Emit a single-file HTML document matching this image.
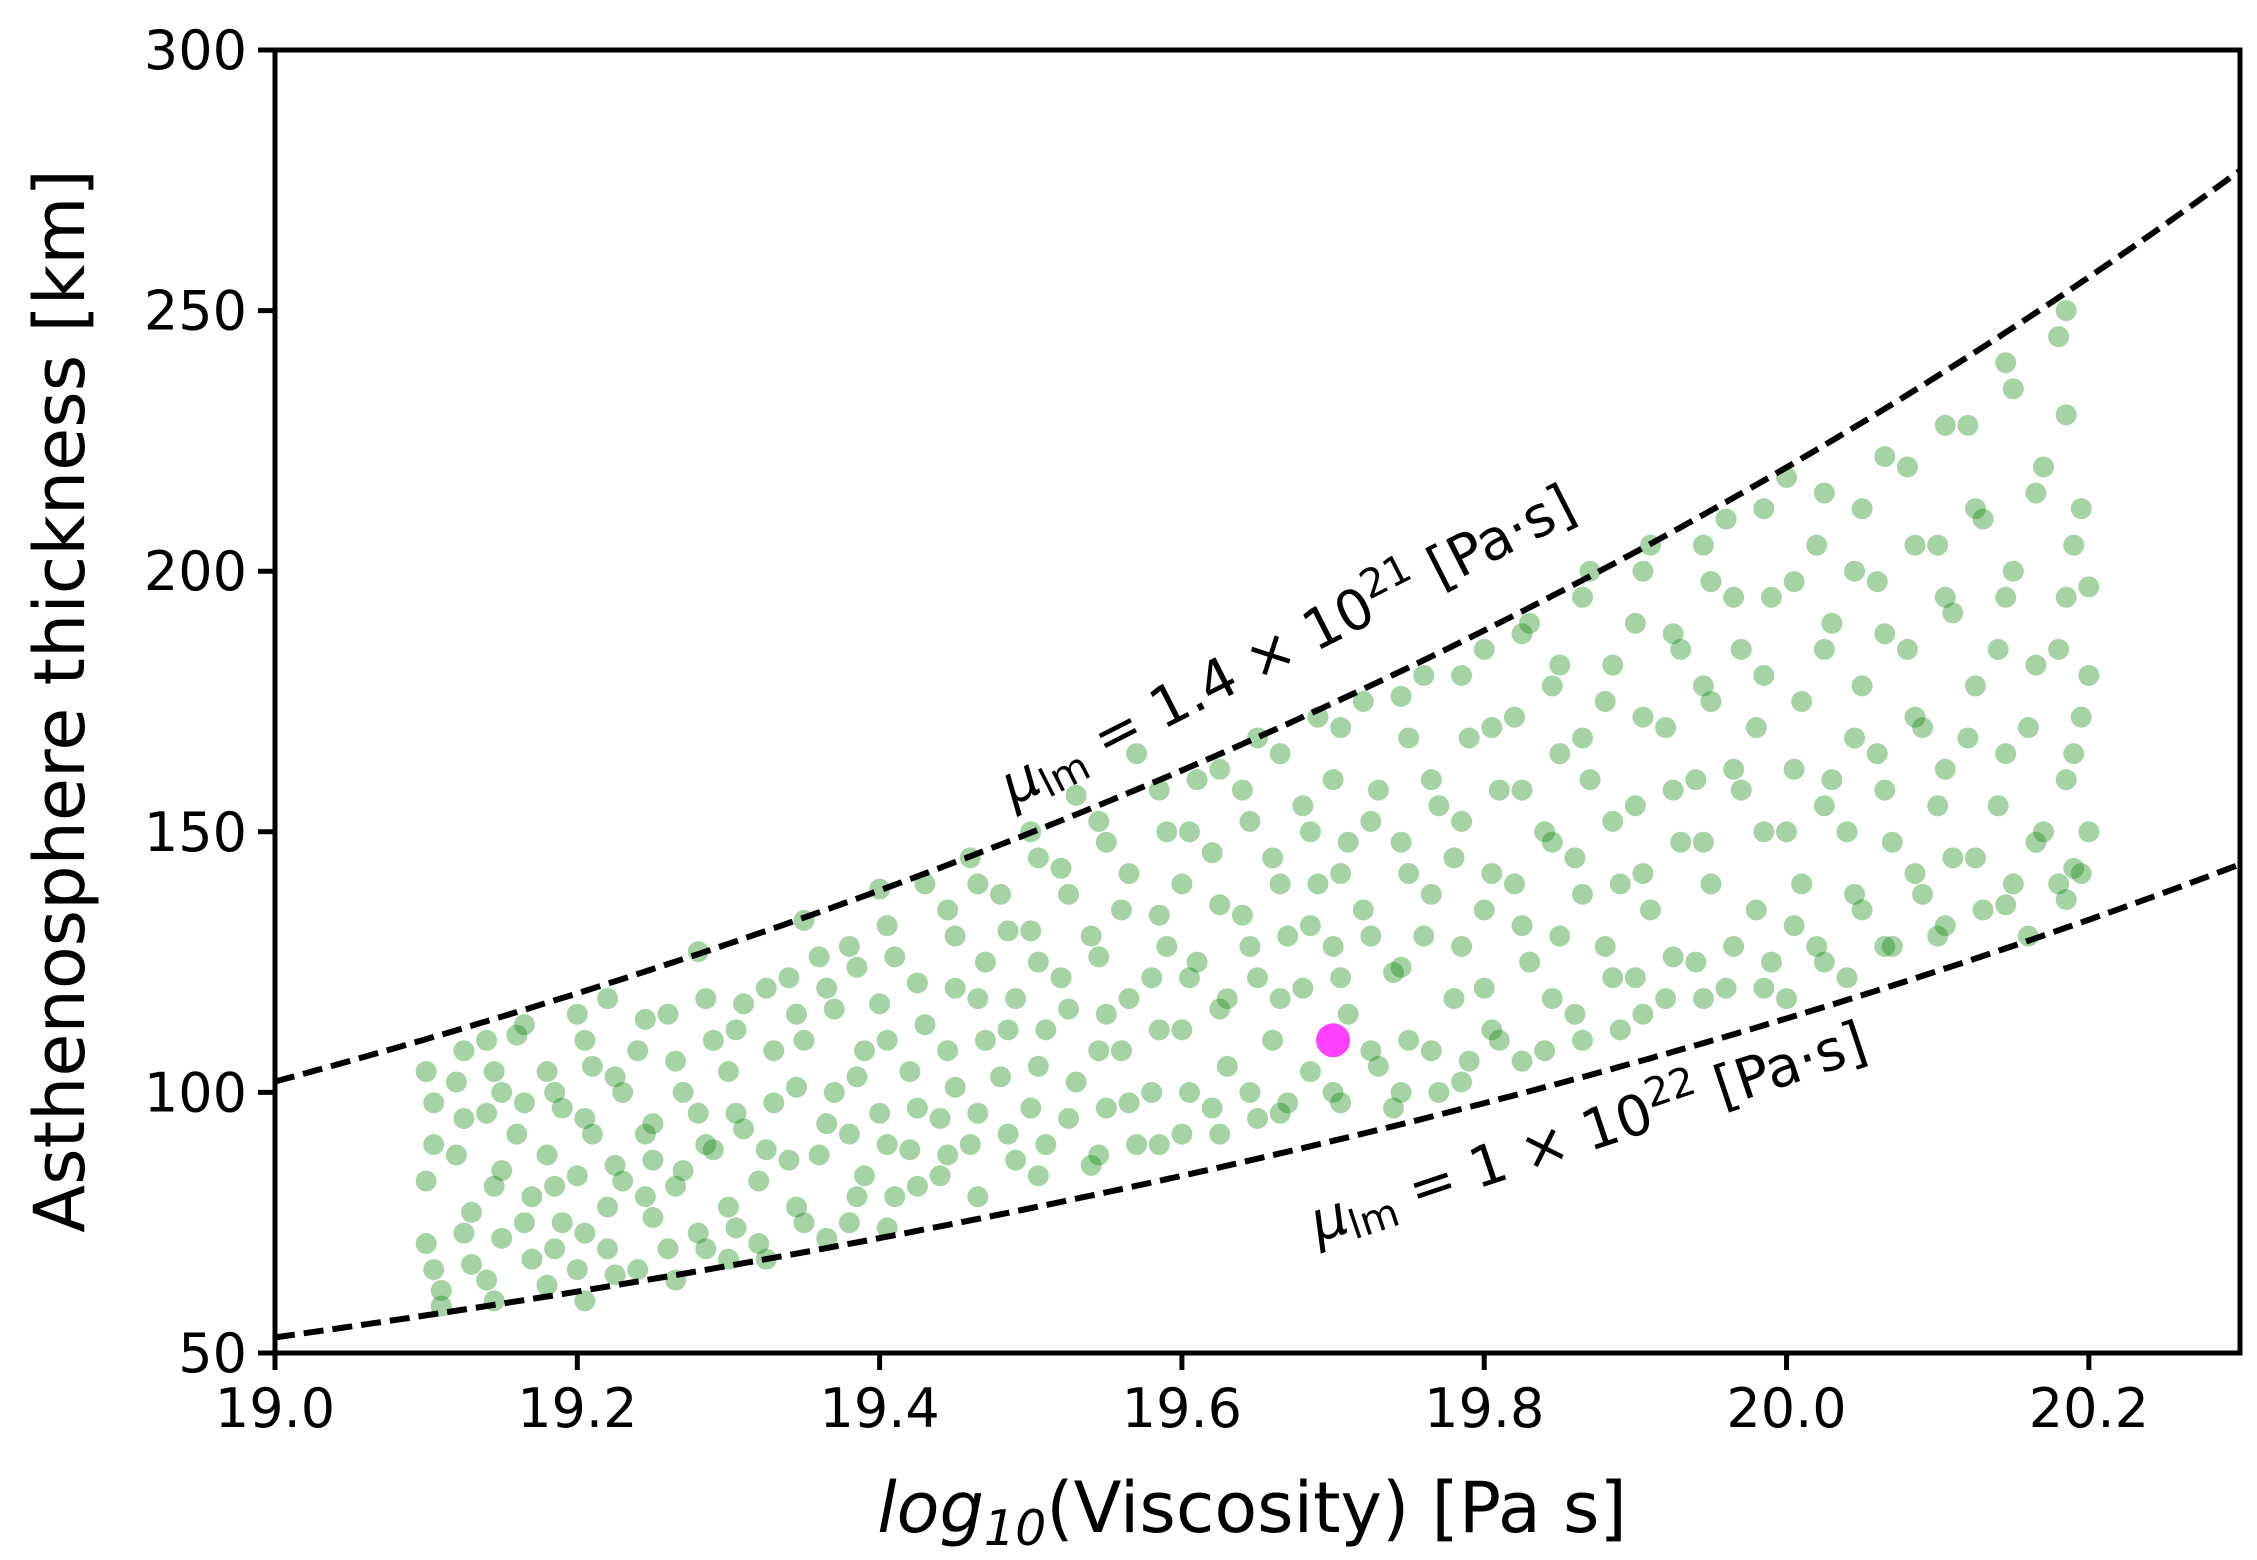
<!DOCTYPE html>
<html><head><meta charset="utf-8"><style>
html,body{margin:0;padding:0;background:#fff;}
svg{display:block;font-family:"DejaVu Sans","Liberation Sans",sans-serif;}
</style></head><body>
<svg id="chart" width="2257" height="1560" viewBox="0 0 2257 1560" xmlns="http://www.w3.org/2000/svg">
<rect width="2257" height="1560" fill="#fff"/>
<g id="points"></g>
<g id="curves"></g>
<g id="axes"></g>
<text transform="translate(1296,662) rotate(-27)" text-anchor="middle" font-size="56" fill="#000"><tspan font-style="italic">μ</tspan><tspan font-size="40" dy="9">lm</tspan><tspan dy="-9"> = 1.4 × 10</tspan><tspan font-size="40" dy="-22">21</tspan><tspan dy="22"> [Pa·s]</tspan></text>
<text transform="translate(1594,1150) rotate(-18.5)" text-anchor="middle" font-size="56" fill="#000"><tspan font-style="italic">μ</tspan><tspan font-size="40" dy="9">lm</tspan><tspan dy="-9"> = 1 × 10</tspan><tspan font-size="40" dy="-22">22</tspan><tspan dy="22"> [Pa·s]</tspan></text>
<text transform="translate(84,701) rotate(-90)" text-anchor="middle" font-size="70" fill="#000">Asthenosphere thickness [km]</text>
<text x="1252" y="1532" text-anchor="middle" font-size="70" fill="#000"><tspan font-style="italic">log</tspan><tspan font-size="49" dy="13" font-style="italic">10</tspan><tspan dy="-13">(Viscosity) [Pa s]</tspan></text>
</svg>
<script>
const xTicks = [19.0, 19.2, 19.4, 19.6, 19.8, 20.0, 20.2];
const xTickLabels = ["19.0","19.2","19.4","19.6","19.8","20.0","20.2"];
const yTicks = [50, 100, 150, 200, 250, 300];
const yTickLabels = ["50","100","150","200","250","300"];
const curveMuLog = [21.146, 22];
const bestX = [19.7];
const bestY = [110];
const ptX = [19.10,19.10,19.10,19.11,19.11,19.12,19.12,19.13,19.13,19.14,19.14,19.14,19.15,19.15,19.15,
19.16,19.16,19.17,19.17,19.18,19.18,19.18,19.19,19.19,19.20,19.20,19.20,
19.21,19.21,19.22,19.22,19.22,19.23,19.23,19.24,19.24,19.25,19.25,19.25,
19.26,19.26,19.27,19.27,19.28,19.28,19.28,19.29,19.29,19.30,19.30,19.30,
19.31,19.31,19.32,19.32,19.33,19.33,19.34,19.34,19.35,19.35,19.35,19.36,
19.36,19.37,19.37,19.38,19.38,19.38,19.39,19.39,19.40,19.40,19.40,
19.41,19.41,19.42,19.42,19.43,19.43,19.44,19.44,19.45,19.45,19.45,
19.46,19.46,19.47,19.47,19.48,19.48,19.49,19.49,19.50,19.50,19.50,
19.51,19.51,19.52,19.52,19.53,19.53,19.54,19.54,19.55,19.55,19.55,
19.56,19.56,19.57,19.57,19.58,19.58,19.59,19.59,19.60,19.60,19.60,
19.61,19.61,19.62,19.62,19.63,19.63,19.64,19.64,19.65,19.65,19.65,
19.66,19.66,19.67,19.67,19.68,19.68,19.69,19.69,19.70,19.70,19.70,
19.71,19.71,19.72,19.72,19.73,19.73,19.74,19.74,19.75,19.75,19.75,
19.76,19.76,19.77,19.77,19.78,19.78,19.79,19.79,19.80,19.80,19.80,
19.81,19.81,19.82,19.82,19.83,19.83,19.84,19.84,19.85,19.85,19.85,
19.86,19.86,19.87,19.87,19.88,19.88,19.89,19.89,19.90,19.90,19.90,
19.91,19.91,19.92,19.92,19.93,19.93,19.94,19.94,19.95,19.95,19.95,
19.96,19.96,19.97,19.97,19.98,19.98,19.99,19.99,20.00,20.00,20.00,
20.01,20.01,20.02,20.02,20.03,20.03,20.04,20.04,20.05,20.05,20.05,
20.06,20.06,20.07,20.07,20.08,20.08,20.09,20.09,20.10,20.10,20.10,
20.11,20.11,20.12,20.12,20.13,20.13,20.14,20.14,20.15,20.15,20.15,
20.16,20.16,20.17,20.17,20.18,20.18,20.18,20.19,20.19,20.19,20.20,20.20,20.20];
const ptY = [104,83,71,62,59,102,88,67,77,110,96,64,85,100,72,
111,92,80,68,104,63,88,97,75,115,84,66,
105,92,78,70,118,100,83,66,108,94,76,87,
115,70,100,85,127,96,73,110,89,78,104,68,
117,93,83,71,108,98,122,87,75,110,133,88,
126,100,116,75,92,128,108,84,139,96,117,
80,126,104,89,140,113,95,84,130,120,101,
145,90,110,125,103,138,87,118,150,97,131,
112,90,143,122,102,157,86,130,115,97,148,
135,108,165,90,122,100,150,128,112,92,140,
160,125,97,146,118,105,158,134,95,122,168,
145,110,130,98,155,120,172,140,100,128,160,
115,148,175,135,105,158,123,97,142,168,110,
180,130,100,155,118,145,168,106,135,185,120,
158,110,172,140,125,190,108,150,165,130,182,
115,145,200,160,128,175,112,140,190,155,122,
205,135,170,118,185,148,160,125,198,140,175,
120,210,158,185,135,170,125,195,150,218,118,
175,140,205,128,160,190,122,150,212,178,135,
165,198,128,148,220,185,138,170,205,130,155,
192,145,228,168,135,210,155,185,140,235,200,
170,130,220,150,245,185,140,205,165,143,197,150,180];
const colX = [19.105,19.125,19.145,19.165,19.185,19.205,19.225,19.245,19.265,19.285,19.305,19.325,19.345,19.365,19.385,19.405,19.425,19.445,19.465,19.485,19.505,19.525,19.545,19.565,19.585,19.605,19.625,19.645,19.665,19.685,19.705,19.725,19.745,19.765,19.785,19.805,19.825,19.845,19.865,19.885,19.905,19.925,19.945,19.965,19.985,20.005,20.025,20.045,20.065,20.085,20.105,20.125,20.145,20.165,20.185,20.195];
const colY = [[66,90,98],[73,95,108],[60,82,104],[75,98,113],[70,82,100],[60,73,95,110],[65,86,103],[80,92,114],[64,82,106],[70,90,118],[74,96,112],[68,89,120],[78,101,115],[72,94,120],[80,103,124],[74,90,110,132],[82,97,121],[88,108,135],[80,96,118,140],[92,112,131],[84,105,125,145],[95,116,138],[88,108,126,152],[98,118,142],[90,112,134,158],[100,122,150],[92,116,136,162],[100,128,152],[96,118,140,165],[104,132,150],[98,122,142,170],[108,130,152],[100,124,148,176],[108,138,160],[102,128,152,180],[112,142,170],[106,132,158,188],[118,148,178],[110,138,168,195],[122,152,182],[115,142,172,200],[126,158,188],[118,148,178,205],[128,162,195],[120,150,180,212],[132,162,198],[125,155,185,215],[138,168,200],[128,158,188,222],[142,172,205],[132,162,195,228],[145,178,212],[136,165,195,240],[148,182,215],[137,160,195,230,250],[142,172,212]];

const L=275, R=2240, T=50, B=1353, X0=19.0, X1=20.3, Y0=50, Y1=300;
function sx(v){return L+(v-X0)/(X1-X0)*(R-L);}
function sy(v){return B-(v-Y0)/(Y1-Y0)*(B-T);}
const NS='http://www.w3.org/2000/svg';
function mk(tag,attrs,parent){const e=document.createElementNS(NS,tag);for(const k in attrs)e.setAttribute(k,attrs[k]);parent.appendChild(e);return e;}

const pg=document.getElementById('points');
function addPt(x,y){
  const c=mk('circle',{cx:sx(x),cy:sy(y),r:10.5,fill:'green','fill-opacity':0.35},pg);
  
  
}
for(let i=0;i<ptX.length;i++) addPt(ptX[i],ptY[i]);
for(let i=0;i<colX.length;i++) colY[i].forEach(y=>addPt(colX[i],y));
for(let i=0;i<bestX.length;i++){
  const c=mk('circle',{cx:sx(bestX[i]),cy:sy(bestY[i]),r:17,fill:'#ff00ff','fill-opacity':0.75},pg);
  
  
}

const cg=document.getElementById('curves');
curveMuLog.forEach((mu,j)=>{
  let d='';
  for(let k=0;k<=200;k++){
    const x=X0+(X1-X0)*k/200;
    const h=530*Math.pow(10,(x-mu)/3);
    d+=(k?'L':'M')+sx(x).toFixed(1)+','+sy(h).toFixed(1);
  }
  const p=mk('path',{d:d,fill:'none',stroke:'#000','stroke-width':6,'stroke-dasharray':'20,9'},cg);
  
  
});

const ag=document.getElementById('axes');
const fr=mk('rect',{x:L,y:T,width:R-L,height:B-T,fill:'none',stroke:'#000','stroke-width':5},ag);


xTicks.forEach((v,i)=>{
  const x=sx(v);
  const t=mk('line',{x1:x,y1:B,x2:x,y2:B+17,stroke:'#000','stroke-width':5},ag);
  
  
  const tx=mk('text',{x:x,y:B+74,'text-anchor':'middle','font-size':54,fill:'#000'},ag);
  tx.textContent=xTickLabels[i];
  
  
});
yTicks.forEach((v,i)=>{
  const y=sy(v);
  const t=mk('line',{x1:L-17,y1:y,x2:L,y2:y,stroke:'#000','stroke-width':5},ag);
  
  
  const tx=mk('text',{x:L-28,y:y+19,'text-anchor':'end','font-size':54,fill:'#000'},ag);
  tx.textContent=yTickLabels[i];
  
  
});
</script>
</body></html>
